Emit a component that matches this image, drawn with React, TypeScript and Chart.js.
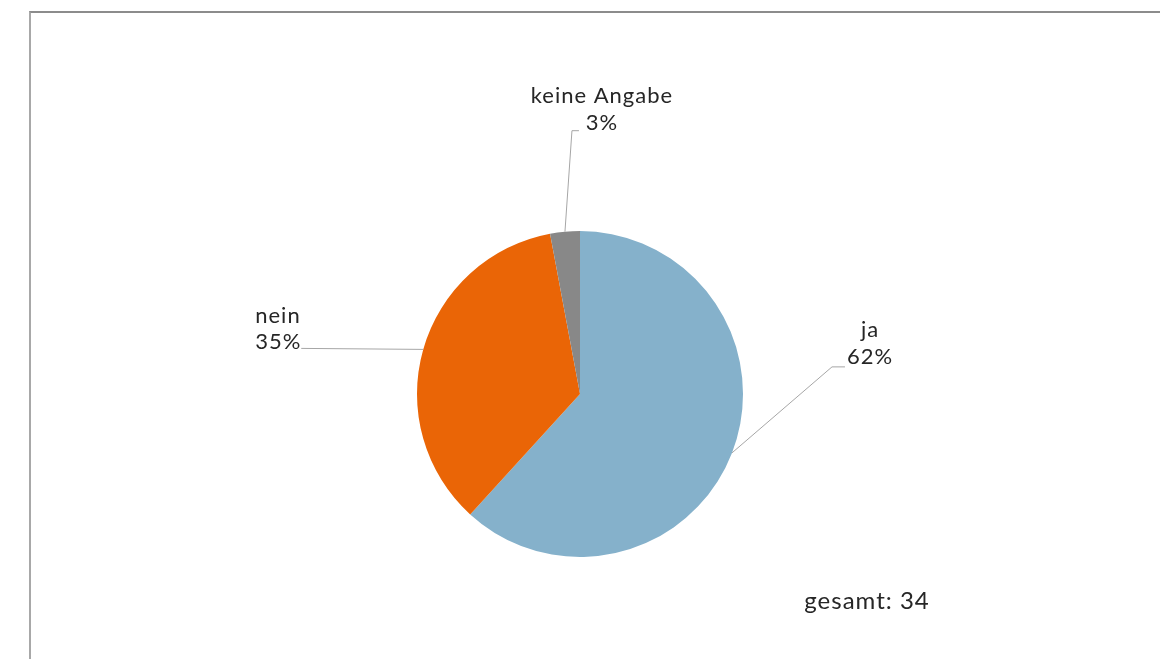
import React, { useEffect, useRef } from "react";
import { Chart, registerables } from "chart.js";

Chart.register(...registerables);

const categories = ["ja", "nein", "keine Angabe"];
const counts = [21, 12, 1];
const percentLabels = ["62%", "35%", "3%"];
const totalLabel = "gesamt: 34";
const colors = ["#85B1CB", "#EA6506", "#888888"];

// label text centre offsets relative to the slice's outer mid point
const labelOffsets = [
  { dx: 138, dy: -109, elbow: { dx: 100, dy: -86 }, tail: 13 },
  { dx: -146, dy: -20, elbow: null, tail: 0 },
  { dx: 37, dy: -122, elbow: { dx: 7, dy: -101 }, tail: 7 },
];

const FONT = "Lato, 'Open Sans', sans-serif";

const labelPlugin = {
  id: "pieLabels",
  afterDraw(chart: any) {
    const ctx = chart.ctx;
    const meta = chart.getDatasetMeta(0);
    ctx.save();
    meta.data.forEach((arc: any, i: number) => {
      const { x, y, startAngle, endAngle, outerRadius } = arc.getProps(
        ["x", "y", "startAngle", "endAngle", "outerRadius"],
        true
      );
      const mid = (startAngle + endAngle) / 2;
      const px = x + Math.cos(mid) * outerRadius;
      const py = y + Math.sin(mid) * outerRadius;
      const o = labelOffsets[i];
      const tx = px + o.dx;
      const ty = py + o.dy;
      ctx.strokeStyle = "#a6a6a6";
      ctx.lineWidth = 1;
      ctx.beginPath();
      ctx.moveTo(px, py);
      if (o.elbow) {
        const ex = px + o.elbow.dx;
        const ey = py + o.elbow.dy;
        ctx.lineTo(ex, ey);
        ctx.lineTo(ex + o.tail, ey);
      } else {
        ctx.lineTo(tx + 24, py - 1);
      }
      ctx.stroke();
      ctx.fillStyle = "#262626";
      ctx.font = `22px ${FONT}`;
      (ctx as any).letterSpacing = "1px";
      ctx.textBaseline = "middle";
      if (i === 1) {
        ctx.textAlign = "left";
        ctx.fillText(categories[i], tx - 22, ty - 13);
        ctx.fillText(percentLabels[i], tx - 22, ty + 13);
      } else {
        ctx.textAlign = "center";
        ctx.fillText(categories[i], tx, ty - 14);
        ctx.fillText(percentLabels[i], tx, ty + 13);
      }
    });
    ctx.font = `24px ${FONT}`;
    (ctx as any).letterSpacing = "1px";
    ctx.textAlign = "center";
    ctx.textBaseline = "middle";
    ctx.fillStyle = "#262626";
    const cx = meta.data[0].x;
    const cy = meta.data[0].y;
    ctx.fillText(totalLabel, cx + 287, cy + 207);
    ctx.restore();
  },
};

export default function App() {
  const ref = useRef<HTMLCanvasElement | null>(null);
  useEffect(() => {
    if (!ref.current) return;
    const chart = new Chart(ref.current, {
      type: "pie",
      data: {
        labels: categories,
        datasets: [
          {
            data: counts,
            backgroundColor: colors,
            borderWidth: 0,
          },
        ],
      },
      options: {
        animation: false,
        responsive: false,
        maintainAspectRatio: false,
        layout: { padding: { top: 231, bottom: 102, left: 0, right: 0 } },
        plugins: { legend: { display: false }, tooltip: { enabled: false } },
      },
      plugins: [labelPlugin],
    });
    return () => chart.destroy();
  }, []);
  return (
    <div style={{ position: "fixed", left: 0, top: 0, width: 1160, height: 659, background: "#fff", overflow: "hidden" }}>
      <div
        style={{
          position: "absolute",
          left: 29,
          top: 11,
          width: 1300,
          height: 800,
          borderTop: "2px solid #8c8c8c",
          borderLeft: "2px solid #a8a8a8",
        }}
      />
      <canvas ref={ref} width={1160} height={659} style={{ position: "absolute", left: 0, top: 0 }} />
    </div>
  );
}
